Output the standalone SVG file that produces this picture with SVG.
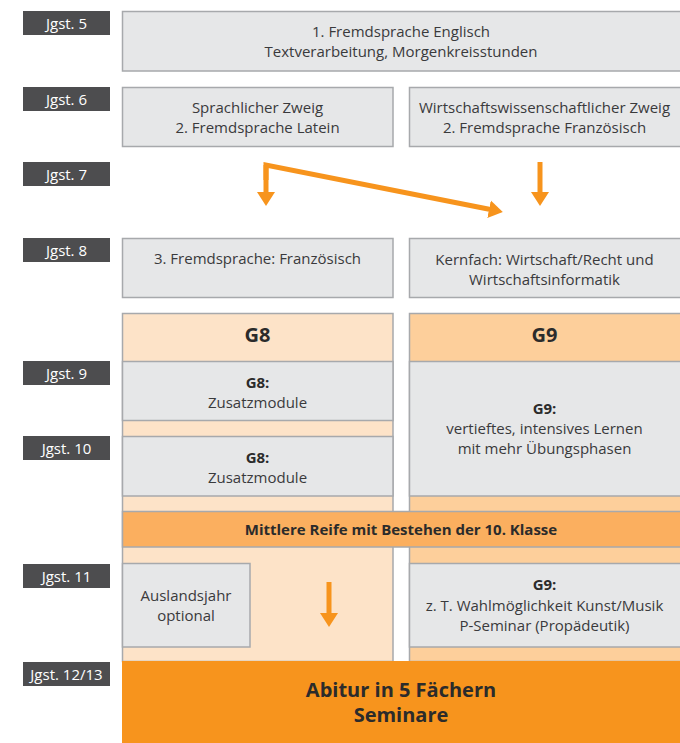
<svg xmlns="http://www.w3.org/2000/svg" width="680" height="743" viewBox="0 0 680 743">
<style>
text{font-family:"Open Sans","Liberation Sans",Arial,sans-serif;font-size:15px;fill:#3a3a3c;text-anchor:middle}
.jl rect{fill:#4d4d4f}
.jl text{fill:#ffffff;font-size:15px}
.box{fill:#e6e7e8;stroke:#a7a9ac;stroke-width:1.5}
.b{font-weight:bold;fill:#2b2b2b}
.h{font-size:20px;font-weight:bold;fill:#2b2b2b}
.arr{fill:none;stroke:#f7941d;stroke-width:5}
</style>
<defs>
<marker id="ah" markerUnits="userSpaceOnUse" markerWidth="20" markerHeight="20" viewBox="0 0 20 20" refX="4" refY="10" orient="auto">
<path d="M0,1 L14,10 L0,19 Z" fill="#f7941d"/>
</marker>
</defs>

<!-- Jahrgangsstufen labels -->
<g id="jgst5" class="jl"><rect x="23" y="11" width="87" height="24"/><text x="66.5" y="29">Jgst. 5</text></g>
<g id="jgst6" class="jl"><rect x="23" y="87" width="87" height="24"/><text x="66.5" y="105">Jgst. 6</text></g>
<g id="jgst7" class="jl"><rect x="23" y="162" width="87" height="24"/><text x="66.5" y="180">Jgst. 7</text></g>
<g id="jgst8" class="jl"><rect x="23" y="238" width="87" height="24"/><text x="66.5" y="256">Jgst. 8</text></g>
<g id="jgst9" class="jl"><rect x="23" y="361" width="87" height="24"/><text x="66.5" y="379">Jgst. 9</text></g>
<g id="jgst10" class="jl"><rect x="23" y="436" width="87" height="24"/><text x="66.5" y="454">Jgst. 10</text></g>
<g id="jgst11" class="jl"><rect x="23" y="564" width="87" height="24"/><text x="66.5" y="582">Jgst. 11</text></g>
<g id="jgst1213" class="jl"><rect x="23" y="662" width="87" height="24"/><text x="66.5" y="680">Jgst. 12/13</text></g>

<!-- Top rows -->
<g id="n-jgst5">
<rect class="box" x="122.5" y="11.5" width="562" height="59.5"/>
<text x="401" y="37">1. Fremdsprache Englisch</text>
<text x="401" y="57">Textverarbeitung, Morgenkreisstunden</text>
</g>
<g id="n-sprachlich">
<rect class="box" x="122.5" y="87.5" width="270.5" height="59"/>
<text x="257.5" y="113">Sprachlicher Zweig</text>
<text x="257.5" y="133">2. Fremdsprache Latein</text>
</g>
<g id="n-wirtschaft">
<rect class="box" x="409.5" y="87.5" width="275" height="59"/>
<text x="544.5" y="113">Wirtschaftswissenschaftlicher Zweig</text>
<text x="544.5" y="133">2. Fremdsprache Französisch</text>
</g>
<g id="n-3fs">
<rect class="box" x="122.5" y="238.5" width="270.5" height="59"/>
<text x="257.5" y="264">3. Fremdsprache: Französisch</text>
</g>
<g id="n-kernfach">
<rect class="box" x="409.5" y="238.5" width="275" height="59"/>
<text x="544.5" y="265">Kernfach: Wirtschaft/Recht und</text>
<text x="544.5" y="285">Wirtschaftsinformatik</text>
</g>

<!-- G8 / G9 columns -->
<g id="col-g8">
<rect x="122.5" y="313.5" width="270.5" height="348" fill="#fde3c8" stroke="#a7a9ac" stroke-width="1.5"/>
<text class="h" x="257.5" y="342">G8</text>
</g>
<g id="col-g9">
<rect x="409.5" y="313.5" width="275" height="348" fill="#fdcf9b" stroke="#a7a9ac" stroke-width="1.5"/>
<text class="h" x="544.5" y="342">G9</text>
</g>
<g id="n-g8-9">
<rect class="box" x="122.5" y="361.5" width="270.5" height="59"/>
<text class="b" x="257.5" y="387.5" font-size="14">G8:</text>
<text x="257.5" y="408">Zusatzmodule</text>
</g>
<g id="n-g8-10">
<rect class="box" x="122.5" y="436.5" width="270.5" height="59.5"/>
<text class="b" x="257.5" y="462.5" font-size="14">G8:</text>
<text x="257.5" y="483">Zusatzmodule</text>
</g>
<g id="n-g9-910">
<rect class="box" x="409.5" y="361.5" width="275" height="134.5"/>
<text class="b" x="544.5" y="414" font-size="14">G9:</text>
<text x="544.5" y="434">vertieftes, intensives Lernen</text>
<text x="544.5" y="454">mit mehr Übungsphasen</text>
</g>
<g id="n-mittlere-reife">
<rect x="122.5" y="511.5" width="562" height="35.5" fill="#fbaf5f" stroke="#a7a9ac" stroke-width="1.5"/>
<text class="b" x="401" y="534.5" font-size="13.5">Mittlere Reife mit Bestehen der 10. Klasse</text>
</g>
<g id="n-ausland">
<rect class="box" x="122.5" y="563.5" width="127.5" height="83.5"/>
<text x="186" y="601">Auslandsjahr</text>
<text x="186" y="621">optional</text>
</g>
<g id="n-g9-11">
<rect class="box" x="409.5" y="563.5" width="275" height="83.5"/>
<text class="b" x="544.5" y="590" font-size="14">G9:</text>
<text x="544.5" y="611">z. T. Wahlmöglichkeit Kunst/Musik</text>
<text x="544.5" y="631">P-Seminar (Propädeutik)</text>
</g>
<g id="n-abitur">
<rect x="122" y="661" width="562" height="82" fill="#f7941d"/>
<text class="h" x="401" y="697">Abitur in 5 Fächern</text>
<text class="h" x="401" y="722">Seminare</text>
</g>

<!-- Connectors -->
<g id="connectors">
<path class="arr" d="M266,165 L266,196" marker-end="url(#ah)"/>
<path class="arr" d="M266,180 L266,165 L493,210" stroke-linejoin="miter" marker-end="url(#ah)"/>
<path class="arr" d="M540,162 L540,196" marker-end="url(#ah)"/>
<path class="arr" d="M329,582 L329,617" marker-end="url(#ah)"/>
</g>
</svg>
